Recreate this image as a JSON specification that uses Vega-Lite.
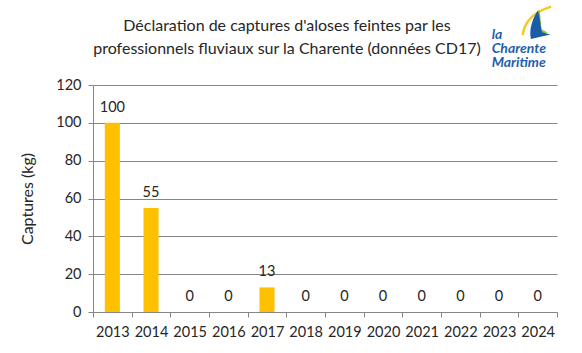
{
  "$schema": "https://vega.github.io/schema/vega-lite/v6.json",
  "width": 464,
  "height": 227,
  "autosize": {"type": "none"},
  "padding": {"left": 93, "top": 85, "right": 25, "bottom": 41},
  "background": "white",
  "title": {
    "text": ["Déclaration de captures d'aloses feintes par les", "professionnels fluviaux sur la Charente (données CD17)"],
    "anchor": "middle",
    "dx": -38,
    "offset": -55,
    "font": "Lato",
    "fontSize": 16,
    "fontWeight": "normal",
    "color": "#262626",
    "lineHeight": 23
  },
  "data": {
    "values": [
      {"year": "2013", "captures": 100},
      {"year": "2014", "captures": 55},
      {"year": "2015", "captures": 0},
      {"year": "2016", "captures": 0},
      {"year": "2017", "captures": 13},
      {"year": "2018", "captures": 0},
      {"year": "2019", "captures": 0},
      {"year": "2020", "captures": 0},
      {"year": "2021", "captures": 0},
      {"year": "2022", "captures": 0},
      {"year": "2023", "captures": 0},
      {"year": "2024", "captures": 0}
    ]
  },
  "encoding": {
    "x": {
      "field": "year",
      "type": "ordinal",
      "scale": {"paddingInner": 0, "paddingOuter": 0},
      "axis": {
        "title": null,
        "labelAngle": 0,
        "labelFont": "Lato",
        "labelFontSize": 14.5,
        "labelColor": "#262626",
        "labelPadding": 8,
        "tickBand": "extent",
        "tickSize": 5,
        "tickColor": "#868686",
        "domainColor": "#868686",
        "grid": false
      }
    },
    "y": {
      "field": "captures",
      "type": "quantitative",
      "scale": {"domain": [0, 120]},
      "axis": {
        "title": "Captures (kg)",
        "titleFont": "Lato",
        "titleFontSize": 16,
        "titleFontWeight": "normal",
        "titleColor": "#262626",
        "titlePadding": 20,
        "values": [0, 20, 40, 60, 80, 100, 120],
        "labelFont": "Lato",
        "labelFontSize": 14.5,
        "labelColor": "#262626",
        "labelPadding": 7,
        "tickSize": 5,
        "tickColor": "#868686",
        "domainColor": "#868686",
        "gridColor": "#868686",
        "gridWidth": 1
      }
    }
  },
  "layer": [
    {
      "mark": {"type": "bar", "color": "#FFC000", "width": {"band": 0.39}}
    },
    {
      "mark": {"type": "text", "dy": -15, "font": "Lato", "fontSize": 14.5, "color": "#262626"},
      "encoding": {"text": {"field": "captures", "type": "quantitative"}}
    },
    {
      "transform": [{"filter": "datum.year == '2024'"}],
      "mark": {"type": "point", "shape": "M-1,0.9 C-0.9,0.1 -0.4,-0.6 0.9,-1", "filled": false, "stroke": "#f7c81e", "strokeWidth": 2.5, "opacity": 1, "size": 900, "clip": false, "dx": -5},
      "encoding": {
        "x": {"datum": "2024"},
        "y": {"datum": 153.5}
      }
    },
    {
      "transform": [{"filter": "datum.year == '2024'"}],
      "mark": {"type": "point", "shape": "M0.1,-1 C-0.1,-0.5 -0.5,0.3 -0.45,0.95 L0.1,0.8 L0.75,0.75 L0.3,0.5 C0.2,0 0.25,-0.5 0.1,-1 Z", "filled": true, "color": "#8cc63f", "opacity": 1, "size": 729, "clip": false, "dx": 14},
      "encoding": {
        "x": {"datum": "2024"},
        "y": {"datum": 153}
      }
    },
    {
      "transform": [{"filter": "datum.year == '2024'"}],
      "mark": {"type": "point", "shape": "M0,-1 C-0.3,-0.5 -0.6,0.2 -0.45,0.9 L0.2,0.75 L0.85,0.6 L0.3,0.45 C0.15,0 0.2,-0.5 0,-1 Z", "filled": true, "color": "#1b5ca8", "opacity": 1, "size": 900, "clip": false, "dx": -4},
      "encoding": {
        "x": {"datum": "2024"},
        "y": {"datum": 151.5}
      }
    },
    {
      "transform": [{"filter": "datum.year == '2024'"}],
      "mark": {"type": "text", "font": "Lato", "fontSize": 14, "fontStyle": "italic", "fontWeight": "bold", "color": "#1f5fae", "align": "left", "baseline": "top", "lineHeight": 14, "clip": false, "dx": -46, "dy": -3},
      "encoding": {
        "x": {"datum": "2024"},
        "y": {"datum": 148.5},
        "text": {"value": ["la", "Charente", "Maritime"]}
      }
    }
  ],
  "config": {"view": {"stroke": null}}
}
